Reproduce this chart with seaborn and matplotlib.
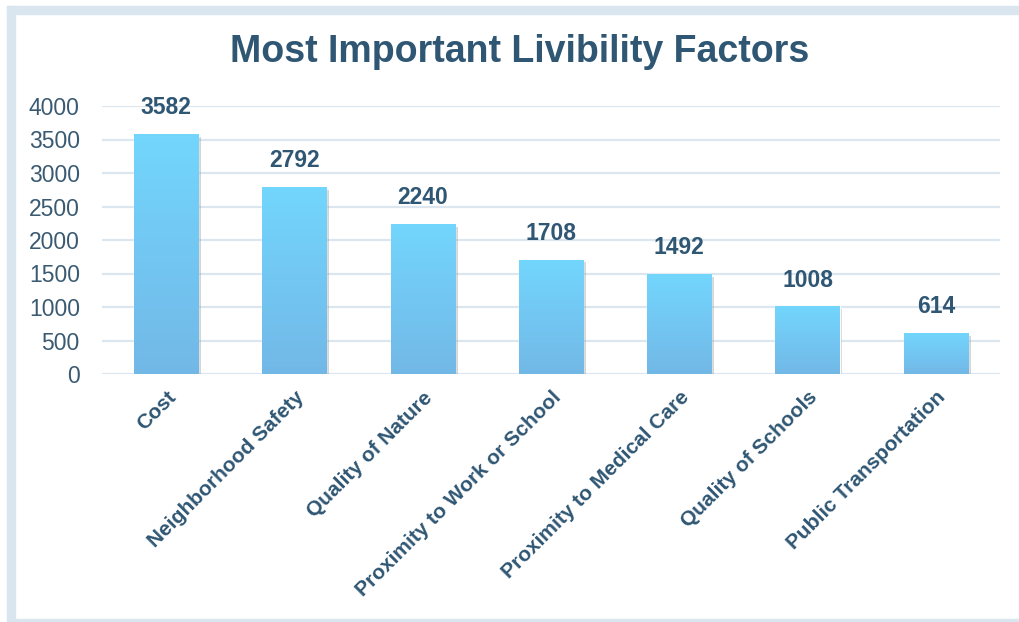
import numpy as np
import pandas as pd
import matplotlib
matplotlib.use("Agg")
import matplotlib.pyplot as plt
import matplotlib.patheffects as pe
from matplotlib.colors import LinearSegmentedColormap
from matplotlib.patches import Rectangle
import seaborn as sns

# Survey results
factors = [
    "Cost",
    "Neighborhood Safety",
    "Quality of Nature",
    "Proximity to Work or School",
    "Proximity to Medical Care",
    "Quality of Schools",
    "Public Transportation",
]
votes = [3582, 2792, 2240, 1708, 1492, 1008, 614]
y_ticks = [0, 500, 1000, 1500, 2000, 2500, 3000, 3500, 4000]

TEXT = "#2f5673"
GRID = "#dbe6ef"
FRAME = "#dae6ef"

sns.set_theme(style="white")
plt.rcParams["font.family"] = ["Liberation Sans", "DejaVu Sans"]

df = pd.DataFrame({"factor": factors, "votes": votes})

fig = plt.figure(figsize=(10.2, 6.22), dpi=100)
W, H = 1020, 622

# light frame around the chart
def px_rect(x0, y0, x1, y1):
    fig.patches.append(Rectangle((x0 / W, 1 - y1 / H), (x1 - x0) / W, (y1 - y0) / H,
                                 transform=fig.transFigure, color=FRAME, zorder=0))

px_rect(7, 6, W, 14)
px_rect(7, 6, 15, H)
px_rect(7, 619, W, H)

ax = fig.add_axes([102 / W, 1 - 374 / H, (1000 - 102) / W, (374 - 106) / H])

sns.barplot(data=df, x="factor", y="votes", ax=ax, width=0.5,
            color="#73bce9", saturation=1, zorder=3)

ax.set_ylim(0, 4000)
ax.set_xlim(-0.5, len(factors) - 0.5)
ax.set_yticks(y_ticks)
ax.yaxis.grid(True, color=GRID, linewidth=1.6, zorder=0)
ax.xaxis.grid(False)
for s in ax.spines.values():
    s.set_visible(False)
ax.tick_params(axis="y", length=0, pad=16, labelsize=16.5, labelcolor="#3a5a72")
ax.tick_params(axis="x", length=0, pad=10)
ax.set_xlabel("")
ax.set_ylabel("")

ax.set_xticks(range(len(factors)))
ax.set_xticklabels(factors, rotation=45, ha="right", va="top",
                   rotation_mode="anchor", fontsize=15, fontweight="bold",
                   color=TEXT)

# vertical gradient fill for each bar
cmap = LinearSegmentedColormap.from_list("barfill", ["#73b8e7", "#72d6fd"])
grad = np.linspace(0, 1, 256).reshape(-1, 1)
for bar, v in zip(ax.patches, votes):
    bar.set_path_effects([pe.SimplePatchShadow(offset=(2, -2), shadow_rgbFace="#888888", alpha=0.35),
                          pe.Normal()])
    x0 = bar.get_x()
    w = bar.get_width()
    im = ax.imshow(grad, cmap=cmap, aspect="auto", origin="lower",
                   extent=(x0, x0 + w, 0, v), zorder=4)
    im.set_clip_path(bar)
    ax.annotate(f"{v}", (x0 + w / 2, v), xytext=(0, 19), textcoords="offset points",
                ha="center", va="center", fontsize=16.5, fontweight="bold",
                color=TEXT, zorder=5, annotation_clip=False)

ax.set_xlim(-0.5, len(factors) - 0.5)
ax.set_ylim(0, 4000)

fig.text(520 / W, 1 - 52 / H, "Most Important Livibility Factors", ha="center", va="center",
         fontsize=27, fontweight="bold", color=TEXT)

fig.savefig("out.png", dpi=100, facecolor="white")
